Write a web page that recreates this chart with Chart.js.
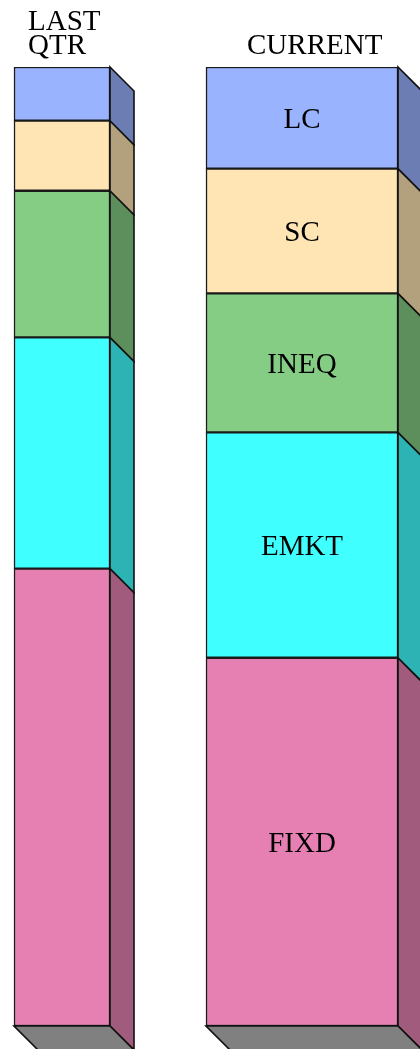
<!DOCTYPE html>
<html>
<head>
<meta charset="utf-8">
<script src="https://cdn.jsdelivr.net/npm/chart.js@4/dist/chart.umd.min.js"></script>
<style>
  html, body { margin: 0; padding: 0; background: #fff; }
  canvas { display: block; }
</style>
</head>
<body>
<canvas id="allocChart" width="420" height="1049"></canvas>
<script>
// segments listed top to bottom
const segments = ['LC', 'SC', 'INEQ', 'EMKT', 'FIXD'];
const periods = [['LAST', 'QTR'], ['CURRENT']];
const lastQtr = [5.6, 7.3, 15.3, 24.1, 47.7];
const current = [10.6, 13.0, 14.5, 23.5, 38.4];

const frontColors = ['#99b3ff', '#ffe5b3', '#85cc85', '#40ffff', '#e680b3'];
const sideColors = ['#6b7db3', '#b3a07d', '#5d8f5d', '#2db3b3', '#a15c7d'];

const DEPTH = 24;
const FONT = '29px "Liberation Serif", "Times New Roman", serif';

// build one dataset per segment per bar, bottom segment first so it stacks at the base
const datasets = [];
for (let i = segments.length - 1; i >= 0; i--) {
    datasets.push({
        label: segments[i],
        data: [{ x: 0, y: lastQtr[i] }],
        backgroundColor: frontColors[i],
        sideColor: sideColors[i],
        showText: false,
        barThickness: 96
    });
    datasets.push({
        label: segments[i],
        data: [{ x: 1, y: current[i] }],
        backgroundColor: frontColors[i],
        sideColor: sideColors[i],
        showText: true,
        barThickness: 192
    });
}

const boxes3d = {
    id: 'boxes3d',
    afterDatasetsDraw(chart) {
        const ctx = chart.ctx;
        ctx.save();
        ctx.lineWidth = 1.6;
        ctx.strokeStyle = '#111';
        ctx.lineJoin = 'miter';

        // side faces
        chart.data.datasets.forEach((ds, di) => {
            chart.getDatasetMeta(di).data.forEach(bar => {
                const p = bar.getProps(['x', 'y', 'base', 'width'], true);
                const right = p.x + p.width / 2;
                ctx.beginPath();
                ctx.moveTo(right, p.y);
                ctx.lineTo(right + DEPTH, p.y + DEPTH);
                ctx.lineTo(right + DEPTH, p.base + DEPTH);
                ctx.lineTo(right, p.base);
                ctx.closePath();
                ctx.fillStyle = ds.sideColor;
                ctx.fill();
                ctx.stroke();
            });
        });

        // floor faces under each bar
        const bottom = chart.scales.y.getPixelForValue(0);
        [0, 1].forEach(k => {
            const bar = chart.getDatasetMeta(k).data[0];
            const p = bar.getProps(['x', 'width'], true);
            const l = p.x - p.width / 2, r = p.x + p.width / 2;
            ctx.beginPath();
            ctx.moveTo(l, bottom);
            ctx.lineTo(r, bottom);
            ctx.lineTo(r + DEPTH, bottom + DEPTH);
            ctx.lineTo(l + DEPTH, bottom + DEPTH);
            ctx.closePath();
            ctx.fillStyle = '#808080';
            ctx.fill();
            ctx.stroke();
        });

        // segment names on the current bar
        ctx.fillStyle = '#000';
        ctx.font = FONT;
        ctx.textAlign = 'center';
        ctx.textBaseline = 'alphabetic';
        chart.data.datasets.forEach((ds, di) => {
            if (!ds.showText) return;
            const bar = chart.getDatasetMeta(di).data[0];
            const p = bar.getProps(['x', 'y', 'base'], true);
            ctx.fillText(ds.label, p.x, (p.y + p.base) / 2 + 10);
        });

        // period headings
        ctx.textAlign = 'left';
        const xs = chart.scales.x;
        const starts = [xs.getPixelForValue(0) - 34, xs.getPixelForValue(1) - 55];
        periods.forEach((lines, k) => {
            lines.forEach((t, j) => {
                const baseline = 54 - (lines.length - 1 - j) * 24;
                ctx.fillText(t, starts[k], baseline);
            });
        });
        ctx.restore();
    }
};

new Chart(document.getElementById('allocChart'), {
    type: 'bar',
    data: { datasets: datasets },
    options: {
        responsive: false,
        animation: false,
        layout: { padding: { top: 67, bottom: 23, left: 0, right: 0 } },
        datasets: {
            bar: {
                borderColor: '#1a1a1a',
                borderWidth: 1.5,
                borderSkipped: false
            }
        },
        scales: {
            x: {
                type: 'linear',
                stacked: true,
                offset: false,
                min: -62 / 240,
                max: -62 / 240 + 420 / 240,
                display: false
            },
            y: {
                stacked: true,
                min: 0,
                max: 100,
                display: false
            }
        },
        plugins: {
            legend: { display: false },
            tooltip: { enabled: false }
        }
    },
    plugins: [boxes3d]
});
</script>
</body>
</html>
